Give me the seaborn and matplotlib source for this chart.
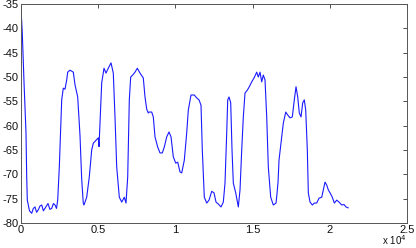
import numpy as np
import pandas as pd
import matplotlib
matplotlib.use("Agg")
import matplotlib.pyplot as plt
import seaborn as sns

# values
sample_index = [0, 84, 194, 324, 369, 408, 550, 693, 800, 907, 1010, 1120, 1230, 1341, 1450, 1554, 1650,
                1749, 1870, 1988, 2100, 2202, 2300, 2377, 2481, 2636, 2740, 2850, 2960, 3025, 3174,
                3387, 3498, 3672, 3821, 3931, 4035, 4080, 4255, 4424, 4579, 4683, 4858, 5007, 5052,
                5117, 5227, 5376, 5505, 5654, 5829, 5978, 6088, 6199, 6367, 6522, 6691, 6801, 6911,
                7015, 7105, 7235, 7384, 7533, 7708, 7921, 8031, 8141, 8245, 8290, 8465, 8569, 8679,
                8854, 9003, 9152, 9281, 9437, 9586, 9716, 9865, 10020, 10150, 10298, 10408, 10577,
                10732, 10836, 11011, 11225, 11380, 11529, 11659, 11743, 11872, 12028, 12177, 12352,
                12501, 12630, 12779, 12954, 13103, 13213, 13323, 13388, 13472, 13582, 13667, 13751,
                13906, 14075, 14185, 14295, 14399, 14508, 14657, 14787, 14943, 15092, 15266, 15370,
                15480, 15590, 15693, 15804, 15914, 16018, 16173, 16342, 16516, 16580, 16650, 16710,
                16840, 16989, 17145, 17274, 17423, 17572, 17702, 17812, 17922, 18025, 18136, 18246,
                18349, 18440, 18544, 18609, 18719, 18868, 18998, 19153, 19302, 19477, 19581, 19690,
                19800, 19904, 20014, 20163, 20293, 20448, 20597, 20772, 20920, 21050, 21200]
rssi = [-36, -41, -51, -61.5, -70.5, -75.3, -77.5, -78, -77, -76.7, -77.8, -77.3, -76.5, -76.3, -77.5,
        -77, -76.5, -76, -77.2, -77, -76, -76.3, -77, -75.3, -68.5, -54.7, -52.3, -52.5, -50.6, -49,
        -48.6, -49, -51.6, -54.1, -62, -71, -76, -76.3, -74.7, -70.5, -65, -63.6, -63, -62.5, -64.3,
        -59.5, -51.2, -48.2, -49.2, -48.2, -47.1, -49.2, -58.2, -68.5, -74.7, -75.7, -74.7, -75.9,
        -70.5, -54.7, -50, -49.6, -49, -48.2, -49.2, -50.2, -54.1, -56.6, -57.4, -57.2, -57.2, -58.2,
        -62.3, -64.4, -65.6, -65.6, -64.4, -62.3, -61.3, -62.3, -66.4, -67.7, -67.5, -69.5, -69.7,
        -67.1, -61.5, -56.8, -53.7, -53.7, -54.3, -54.7, -55.8, -65, -74.7, -75.9, -75.3, -73.5,
        -73.8, -75.7, -76.1, -76.7, -75.7, -71.8, -61.5, -54.7, -54.1, -55.3, -65, -71.8, -73.8,
        -76.7, -73.2, -65, -58.2, -53.3, -52.7, -52, -51, -50.2, -49, -50, -49, -51, -49.6, -50.6,
        -58.2, -68.5, -74.7, -76.3, -75.9, -74, -71.5, -67.1, -63.6, -59.5, -57.2, -57.8, -58.4,
        -58.2, -54.7, -52, -54.1, -57.4, -58.2, -55.3, -54.7, -56.8, -65, -73.8, -75.7, -76.3,
        -75.9, -75.9, -74.9, -74.7, -73.2, -71.6, -72.2, -73.2, -73.8, -74.7, -75.9, -75.3, -75.7,
        -76.3, -76.2, -76.7, -76.9]

x_ticks = [0, 5000, 10000, 15000, 20000, 25000]
x_tick_labels = ['0', '0.5', '1', '1.5', '2', '2.5']
y_ticks = [-80, -75, -70, -65, -60, -55, -50, -45, -40, -35]
y_tick_labels = ['-80', '-75', '-70', '-65', '-60', '-55', '-50', '-45', '-40', '-35']
offset_label = 'x 10$^4$'

df = pd.DataFrame({'sample': sample_index, 'rssi': rssi})

sns.set_style('white')
plt.rcParams['font.family'] = ['Liberation Sans', 'DejaVu Sans']

fig = plt.figure(figsize=(4.16, 2.48), dpi=100)
ax = fig.add_axes([21 / 416, 1 - 223 / 248, 386 / 416, 219 / 248])
sns.lineplot(data=df, x='sample', y='rssi', ax=ax, color='#1a1aff', linewidth=0.8)

ax.set_xlim(0, 25000)
ax.set_ylim(-80, -35)
ax.set_xticks(x_ticks)
ax.set_xticklabels(x_tick_labels)
ax.set_yticks(y_ticks)
ax.set_yticklabels(y_tick_labels)
ax.set_xlabel('')
ax.set_ylabel('')
ax.tick_params(direction='in', length=3, width=0.6, color='#333333', labelsize=8,
               top=True, right=True, pad=1.5, labelcolor='#111111')
for s in ax.spines.values():
    s.set_color('#555555')
    s.set_linewidth(0.7)
    s.set_visible(True)

fig.text(407 / 416, 1 / 248, offset_label, ha='right', va='bottom', fontsize=7, color='#111111')

fig.savefig('out.png', dpi=100)
